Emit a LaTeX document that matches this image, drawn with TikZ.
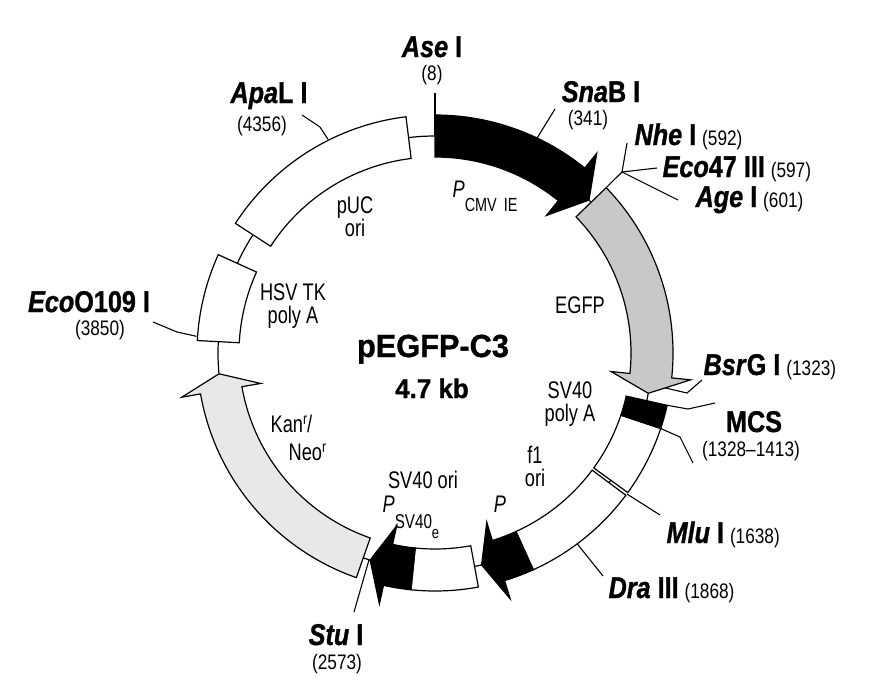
\documentclass[tikz,border=0pt]{standalone}
\usepackage{fontspec}
\setmainfont{Liberation Sans}
\newfontfamily\sitef[FakeStretch=0.84,FakeBold=1]{Liberation Sans}
\newfontfamily\numf[FakeStretch=0.82]{Liberation Sans}
\newfontfamily\labf[FakeStretch=0.76]{Liberation Sans}
\newfontfamily\titf[FakeStretch=0.96,FakeBold=1]{Liberation Sans}
\usetikzlibrary{calc}
\definecolor{egfpgray}{RGB}{200,200,200}
\definecolor{kangray}{RGB}{232,232,232}
\def\rOut{238pt}\def\rIn{196pt}\def\rMid{217pt}\def\wOut{257pt}\def\wIn{177pt}
\newcommand\site[2]{{\sitef\fontsize{30}{32}\selectfont\bfseries\textit{#1}#2}}
\newcommand\bpnum[1]{{\numf\fontsize{21}{23}\selectfont #1}}
\newcommand\featf{\labf\fontsize{24}{23}\selectfont}
\newcommand\segbox[3]{\path[#1] ({90-(#2)}:\rOut) arc[start angle={90-(#2)}, end angle={90-(#3)}, radius=\rOut] -- ({90-(#3)}:\rIn) arc[start angle={90-(#3)}, end angle={90-(#2)}, radius=\rIn] -- cycle;}
\newcommand\segarrow[5]{\path[#1] ({90-(#2)}:\rOut) arc[start angle={90-(#2)}, end angle={90-(#3)}, radius=\rOut] -- ({90-(#3)}:\wOut) coordinate (#5w) -- ({90-(#4)}:\rMid) coordinate (#5t) -- ({90-(#3)}:\wIn) -- ({90-(#3)}:\rIn) arc[start angle={90-(#3)}, end angle={90-(#2)}, radius=\rIn] -- cycle;}
\begin{document}
\begin{tikzpicture}[x=1pt,y=-1pt,line width=1.2pt,
  every node/.style={inner sep=0pt},
  seg/.style={draw=black,fill=white,line join=miter},
  blk/.style={draw=black,fill=black,line join=miter},
  tick/.style={draw=black,line width=1.1pt},
  feat/.style={font=\featf,align=center}]
\useasboundingbox (0,0) rectangle (882,696);
\coordinate (C) at (435,353);
\begin{scope}[shift={(C)}]
  \draw (0,0) circle[radius=\rMid];
  % backbone features
  \segbox{seg}{303}{353}
  \segbox{seg}{273}{294.4}
  \segarrow{seg,fill=kangray}{199.3}{260.1}{264.5}{kan}
  \segbox{seg}{169.5}{185.8}
  \segarrow{blk}{185.8}{192.5}{197.4}{sv}
  \segbox{seg}{126.7}{155.6}
  \segarrow{blk}{155.6}{163}{167.6}{amp}
  \segbox{seg}{108.5}{125.9}
  \segbox{blk}{102.7}{108.5}
  \segarrow{seg,fill=egfpgray}{46}{96}{100.7}{eg}
  \segarrow{blk}{0}{39}{45.2}{cmv}
  % tick starting points
  \coordinate (tAse) at (90:\rMid);
  \coordinate (tApa) at ({90-333.4}:239pt);
  \coordinate (tSna) at ({90-25.4}:\rOut);
  \coordinate (tNhe) at ({90-46}:\rOut);
  \coordinate (tMcsA) at ({90-102.7}:\rOut);
  \coordinate (tMcsB) at ({90-108.5}:\rOut);
  \coordinate (tMlu) at ({90-126.3}:\rOut);
  \coordinate (tDra) at ({90-143.3}:\rOut);
  \coordinate (tStu) at ({90-197.7}:\rMid);
  \coordinate (tEcoO) at ({90-274}:239pt);
\end{scope}
\coordinate (tBsr) at ($(egw)!0.6!(egt)$);
% tick end and bend points
\coordinate (eAse) at (435,93);
\coordinate (bApa) at (320,127); \coordinate (eApa) at (302,115);
\coordinate (eSna) at (555,109);
\coordinate (J) at (622,172);
\coordinate (eNhe) at (627,143); \coordinate (eEco) at (657,168); \coordinate (eAge) at (678,200);
\coordinate (bBsr) at (687,393); \coordinate (eBsr) at (702,380);
\coordinate (bMcsA) at (688,409); \coordinate (eMcsA) at (715,403);
\coordinate (bMcsB) at (680,437); \coordinate (eMcsB) at (693,463);
\coordinate (eMlu) at (660,515);
\coordinate (eDra) at (603,576);
\coordinate (eStu) at (354,612);
\coordinate (bEcoO) at (177,332); \coordinate (eEcoO) at (153,322);
\draw[tick] (tAse) -- (eAse);
\draw[tick] (tApa) -- (bApa) -- (eApa);
\draw[tick] (tSna) -- (eSna);
\draw[tick] (tNhe) -- (J);
\draw[tick] (J) -- (eNhe);
\draw[tick] (J) -- (eEco);
\draw[tick] (J) -- (eAge);
\draw[tick] (tBsr) -- (bBsr) -- (eBsr);
\draw[tick] (tMcsA) -- (bMcsA) -- (eMcsA);
\draw[tick] (tMcsB) -- (bMcsB) -- (eMcsB);
\draw[tick] (tMlu) -- (eMlu);
\draw[tick] (tDra) -- (eDra);
\draw[tick] (tStu) -- (eStu);
\draw[tick] (tEcoO) -- (bEcoO) -- (eEcoO);
% site labels
\node[anchor=base] (lAse) at (432,57) {\site{Ase}{ I}};
\node[anchor=base] (nAse) at (432,80) {\bpnum{(8)}};
\node[anchor=base] (lApa) at (269,103) {\site{Apa}{L I}};
\node[anchor=base] (nApa) at (262,131) {\bpnum{(4356)}};
\node[anchor=base] (lSna) at (601,102) {\site{Sna}{B I}};
\node[anchor=base] (nSna) at (588,125) {\bpnum{(341)}};
\node[anchor=base west] (lNhe) at (634,145) {\site{Nhe}{ I}\hspace{6pt}\bpnum{(592)}};
\node[anchor=base west] (lEco) at (662,177) {\site{Eco}{47 III}\hspace{6pt}\bpnum{(597)}};
\node[anchor=base west] (lAge) at (695,207) {\site{Age}{ I}\hspace{6pt}\bpnum{(601)}};
\node[anchor=base west] (lBsr) at (703,375) {\site{Bsr}{G I}\hspace{6pt}\bpnum{(1323)}};
\node[anchor=base] (lMCS) at (754,432) {\site{}{MCS}};
\node[anchor=base] (nMCS) at (751,456) {\bpnum{(1328–1413)}};
\node[anchor=base west] (lMlu) at (666,543) {\site{Mlu}{ I}\hspace{6pt}\bpnum{(1638)}};
\node[anchor=base west] (lDra) at (608,598) {\site{Dra}{ III}\hspace{6pt}\bpnum{(1868)}};
\node[anchor=base] (lStu) at (336,645) {\site{Stu}{ I}};
\node[anchor=base] (nStu) at (337,669) {\bpnum{(2573)}};
\node[anchor=base] (lEcoO) at (89,312) {\site{Eco}{O109 I}};
\node[anchor=base] (nEcoO) at (100,335) {\bpnum{(3850)}};
% feature labels
\node[feat] (fPuc) at (355,217) {pUC\\ori};
\node[anchor=base west,font=\featf] (fCmv) at (452,197) {\textit{P}\raisebox{-14pt}{\fontsize{19}{19}\selectfont CMV\hspace{7pt}IE}};
\node[font=\featf] (fEgfp) at (580,305) {EGFP};
\node[feat] (fSvpa) at (570,404) {SV40\\poly A};
\node[feat] (fF1) at (535,466) {f1\\ori};
\node[anchor=base,font=\featf] (fSvori) at (423,488) {SV40 ori};
\node[anchor=base west,font=\featf] (fPsv) at (382,512) {\textit{P}\raisebox{-16pt}{\fontsize{20}{20}\selectfont SV40\raisebox{-10pt}{\fontsize{17}{17}\selectfont e}}};
\node[anchor=base,font=\featf] (fPamp) at (500,512) {\textit{P}};
\node[anchor=base west,font=\featf] (fKan) at (270,432) {Kan\raisebox{8pt}{\fontsize{16}{16}\selectfont r}/};
\node[anchor=base west,font=\featf] (fNeo) at (288,460) {Neo\raisebox{8pt}{\fontsize{16}{16}\selectfont r}};
\node[feat] (fHsv) at (293,306) {HSV TK\\poly A};
% title
\node[anchor=base,font={\titf\bfseries\fontsize{32}{32}\selectfont}] (title) at (433,357) {pEGFP-C3};
\node[anchor=base,font={\titf\bfseries\fontsize{27}{27}\selectfont}] (size) at (432,398) {4.7 kb};
\end{tikzpicture}
\end{document}
